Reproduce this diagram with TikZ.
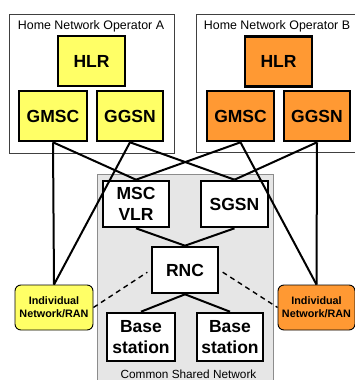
\documentclass[tikz,border=0pt]{standalone}
\usepackage{fontspec}
\setmainfont{Liberation Sans}
\definecolor{ylw}{RGB}{255,255,102}
\definecolor{org}{RGB}{255,153,51}
\definecolor{shared}{RGB}{230,230,230}
\begin{document}
\begin{tikzpicture}[x=1pt,y=-1pt,
  netbox/.style={draw=black,line width=2.6pt,inner sep=0pt,font=\fontsize{17.5}{20.5}\selectfont\bfseries,align=center},
  opbox/.style={draw=black!75,line width=0.9pt,fill=white},
  ranbox/.style={draw=black,line width=0.9pt,rounded corners=6pt,inner sep=0pt,align=center,minimum width=78pt,minimum height=45pt,font=\fontsize{10.8}{13}\selectfont\bfseries},
  link/.style={line width=2pt},
  dlink/.style={line width=1.4pt,dash pattern=on 5pt off 4pt},
  lbl/.style={inner sep=0pt,font=\fontsize{12.4}{14}\selectfont}]
\useasboundingbox (0,0) rectangle (355,380);
% background containers
\draw[opbox] (9,14) rectangle (174,153);
\draw[opbox] (196,14) rectangle (362,152);
\draw[draw=black!45,line width=0.9pt,fill=shared] (97,174) rectangle (273,390);
\node[lbl] (opA) at (91,26) {Home Network Operator A};
\node[lbl] (opB) at (277,26) {Home Network Operator B};
\node[lbl,font=\fontsize{11.8}{14}\selectfont] (csn) at (188.5,374) {Common Shared Network};
% operator A
\node[netbox,fill=ylw,minimum width=67pt,minimum height=50pt] (hlrA) at (91.5,61) {HLR};
\node[netbox,fill=ylw,minimum width=68pt,minimum height=50pt] (gmscA) at (53,116) {GMSC};
\node[netbox,fill=ylw,minimum width=66pt,minimum height=50pt] (ggsnA) at (130,116) {GGSN};
% operator B
\node[netbox,fill=org,minimum width=67pt,minimum height=50pt] (hlrB) at (278.5,61.5) {HLR};
\node[netbox,fill=org,minimum width=67pt,minimum height=50pt] (gmscB) at (240.5,116) {GMSC};
\node[netbox,fill=org,minimum width=66pt,minimum height=50pt] (ggsnB) at (317,116) {GGSN};
% shared network
\node[netbox,fill=white,minimum width=66pt,minimum height=46pt] (msc) at (136,204) {MSC\\VLR};
\node[netbox,fill=white,minimum width=67pt,minimum height=46pt] (sgsn) at (234.5,204) {SGSN};
\node[netbox,fill=white,minimum width=66pt,minimum height=46pt] (rnc) at (185,270) {RNC};
\node[netbox,fill=white,minimum width=68pt,minimum height=48pt] (bsA) at (141,337) {Base\\station};
\node[netbox,fill=white,minimum width=66pt,minimum height=48pt] (bsB) at (230,337) {Base\\station};
% individual RANs
\node[ranbox,fill=ylw] (ranA) at (54,307.5) {Individual\\Network/RAN};
\node[ranbox,fill=org,minimum width=77pt] (ranB) at (316.5,307.5) {Individual\\Network/RAN};
% links
\draw[link] (gmscA.south) -- (ranA.north);
\draw[link] (gmscA.south) -- (msc.north);
\draw[link] (ggsnA.south) -- (ranA.north);
\draw[link] (ggsnA.south) -- (sgsn.north);
\draw[link] (gmscB.south) -- (msc.north);
\draw[link] (gmscB.south) -- (ranB.north);
\draw[link] (ggsnB.south) -- (sgsn.north);
\draw[link] (ggsnB.south) -- (ranB.north);
\draw[link] (msc.south) -- (rnc.north);
\draw[link] (sgsn.south) -- (rnc.north);
\draw[link] (rnc.south) -- (bsA.north);
\draw[link] (rnc.south) -- (bsB.north);
\draw[dlink,shorten >=4pt] (ranA.east) -- (rnc.west);
\draw[dlink,shorten <=4pt] (rnc.east) -- (ranB.west);
\end{tikzpicture}
\end{document}
